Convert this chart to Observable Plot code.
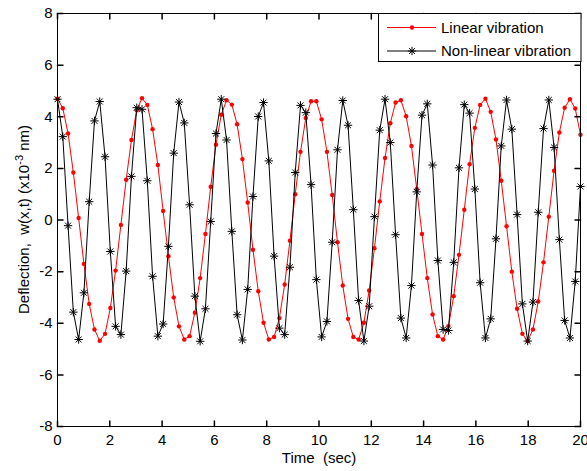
<!DOCTYPE html>
<html>
<head>
<meta charset="utf-8">
<script src="https://cdn.jsdelivr.net/npm/d3@7"></script>
<script src="https://cdn.jsdelivr.net/npm/@observablehq/plot@0.6"></script>
<style>
  html, body { margin: 0; padding: 0; background: white; }
  #chart { position: relative; width: 587px; height: 471px; }
  #chart svg text { white-space: pre; }
</style>
</head>
<body>
<div id="chart"></div>
<script>
// ---- data ----
const time = [0,0.202,0.404,0.606,0.808,1.010,1.212,1.414,1.616,1.818,
  2.020,2.222,2.424,2.626,2.828,3.030,3.232,3.434,3.636,3.838,
  4.040,4.242,4.444,4.646,4.848,5.051,5.253,5.455,5.657,5.859,
  6.061,6.263,6.465,6.667,6.869,7.071,7.273,7.475,7.677,7.879,
  8.081,8.283,8.485,8.687,8.889,9.091,9.293,9.495,9.697,9.899,
  10.101,10.303,10.505,10.707,10.909,11.111,11.313,11.515,11.717,11.919,
  12.121,12.323,12.525,12.727,12.929,13.131,13.333,13.535,13.737,13.939,
  14.141,14.343,14.545,14.747,14.949,15.152,15.354,15.556,15.758,15.960,
  16.162,16.364,16.566,16.768,16.970,17.172,17.374,17.576,17.778,17.980,
  18.182,18.384,18.586,18.788,18.990,19.192,19.394,19.596,19.798,20];

const linearVibration = [4.70,4.33,3.35,1.84,0.08,-1.70,-3.25,-4.24,-4.68,-4.41,
  -3.41,-1.96,-0.19,1.56,3.10,4.25,4.72,4.46,3.52,2.13,
  0.35,-1.40,-3.00,-4.12,-4.63,-4.50,-3.59,-2.25,-0.54,1.29,
  2.92,4.08,4.64,4.47,3.71,2.36,0.68,-1.15,-2.76,-3.98,
  -4.63,-4.53,-3.80,-2.50,-0.80,1.00,2.64,3.95,4.60,4.60,
  3.90,2.64,0.97,-0.86,-2.54,-3.83,-4.53,-4.63,-3.98,-2.73,
  -1.09,0.72,2.40,3.75,4.55,4.64,4.02,2.87,1.20,-0.54,
  -2.25,-3.66,-4.50,-4.63,-4.11,-2.95,-1.35,0.40,2.16,3.57,
  4.46,4.70,4.19,3.12,1.52,-0.24,-2.00,-3.44,-4.41,-4.69,
  -4.24,-3.16,-1.64,0.13,1.91,3.39,4.35,4.68,4.32,3.30];

const nonlinearVibration = [4.68,3.23,-0.22,-3.57,-4.63,-2.82,0.71,3.84,4.59,2.45,
  -1.22,-4.12,-4.44,-1.98,1.69,4.35,4.29,1.52,-2.18,-4.50,
  -4.03,-1.02,2.59,4.57,3.76,0.59,-2.95,-4.70,-3.44,-0.06,
  3.35,4.68,3.10,-0.44,-3.67,-4.65,-2.69,0.91,4.01,4.55,
  2.29,-1.40,-4.19,-4.44,-1.83,1.84,4.44,4.16,1.37,-2.31,
  -4.53,-3.93,-0.86,2.72,4.63,3.67,0.40,-3.12,-4.69,-3.34,
  0.13,3.48,4.68,3.00,-0.57,-3.80,-4.57,-2.54,1.09,4.06,
  4.50,2.13,-1.57,-4.24,-4.28,-1.64,2.02,4.47,4.14,1.20,
  -2.43,-4.57,-3.83,-0.73,2.87,4.65,3.52,0.21,-3.25,-4.69,
  -3.18,0.30,3.54,4.65,2.81,-0.76,-3.89,-4.57,-2.38,1.30];

const xTicks = [0,2,4,6,8,10,12,14,16,18,20];
const yTicks = [-8,-6,-4,-2,0,2,4,6,8];
const seriesNames = ["Linear vibration", "Non-linear vibration"];
const xLabel = "Time  (sec)";
const yLabelMain = "Deflection,  w(x,t) (x10";
const yLabelSup = "-3";
const yLabelEnd = " nm)";

// ---- table for Plot ----
const rows = time.map((t, i) => ({t, lin: linearVibration[i], non: nonlinearVibration[i]}));

const tickShape = {draw(context, l) { context.moveTo(0, 0); context.lineTo(0, -l); }};
const TL = 5.5;
const FONT = '"Liberation Sans", Arial, sans-serif';

const chart = Plot.plot({
  width: 587,
  height: 471,
  marginLeft: 57,
  marginRight: 7,
  marginTop: 13,
  marginBottom: 45,
  style: {fontFamily: FONT, fontSize: "15px", color: "black", background: "white", overflow: "visible"},
  x: {domain: [0, 20]},
  y: {domain: [-8, 8]},
  marks: [
    Plot.line(rows, {x: "t", y: "lin", stroke: "#ff0000", strokeWidth: 1}),
    Plot.dot(rows, {x: "t", y: "lin", fill: "#ff0000", stroke: "none", r: 2.2}),
    Plot.line(rows, {x: "t", y: "non", stroke: "black", strokeWidth: 1}),
    Plot.dot(rows, {x: "t", y: "non", symbol: "plus", r: 2.8, stroke: "black", strokeWidth: 1}),
    Plot.dot(rows, {x: "t", y: "non", symbol: "times", r: 2.8, stroke: "black", strokeWidth: 1}),
    Plot.frame({stroke: "black", strokeWidth: 1}),
    // inward MATLAB-style ticks on all four sides
    Plot.vector(xTicks, {x: d => d, frameAnchor: "bottom", length: TL, rotate: 0, anchor: "start", shape: tickShape, stroke: "black"}),
    Plot.vector(xTicks, {x: d => d, frameAnchor: "top", length: TL, rotate: 180, anchor: "start", shape: tickShape, stroke: "black"}),
    Plot.vector(yTicks, {y: d => d, frameAnchor: "left", length: TL, rotate: 90, anchor: "start", shape: tickShape, stroke: "black"}),
    Plot.vector(yTicks, {y: d => d, frameAnchor: "right", length: TL, rotate: -90, anchor: "start", shape: tickShape, stroke: "black"}),
    Plot.axisX(xTicks, {tickSize: 0, tickPadding: 8, tickFormat: d => String(d), label: null}),
    Plot.axisY(yTicks, {tickSize: 0, tickPadding: 5, tickFormat: d => String(d), label: null}),
    Plot.text([xLabel], {text: d => d, frameAnchor: "bottom", dy: 32, lineAnchor: "middle", textAnchor: "middle", fontSize: 15})
  ]
});

document.getElementById("chart").appendChild(chart);

// ---- y-axis title with superscript ----
const svg = d3.select(chart);
const yt = svg.append("text")
  .attr("transform", "translate(28.5,219.5) rotate(-90)")
  .attr("text-anchor", "middle")
  .attr("fill", "black")
  .style("font-family", FONT)
  .style("font-size", "15px");
yt.append("tspan").text(yLabelMain);
yt.append("tspan").attr("dy", -6).style("font-size", "11px").text(yLabelSup);
yt.append("tspan").attr("dy", 6).text(yLabelEnd);

// ---- legend ----
const lg = svg.append("g").attr("text-anchor", "start");
lg.append("rect").attr("x", 378.5).attr("y", 13.5).attr("width", 202.5).attr("height", 48)
  .attr("fill", "white").attr("stroke", "black").attr("stroke-width", 1);
const rowsY = [27.5, 51];
// linear
lg.append("line").attr("x1", 387).attr("x2", 436).attr("y1", rowsY[0]).attr("y2", rowsY[0]).attr("stroke", "#ff0000");
lg.append("circle").attr("cx", 412).attr("cy", rowsY[0]).attr("r", 2.2).attr("fill", "#ff0000");
// non-linear
lg.append("line").attr("x1", 387).attr("x2", 436).attr("y1", rowsY[1]).attr("y2", rowsY[1]).attr("stroke", "black");
const r = 2.8, size = Math.PI * r * r;
lg.append("path").attr("d", d3.symbol(d3.symbolPlus, size)()).attr("transform", `translate(412,${rowsY[1]})`).attr("fill", "none").attr("stroke", "black");
lg.append("path").attr("d", d3.symbol(d3.symbolTimes, size)()).attr("transform", `translate(412,${rowsY[1]})`).attr("fill", "none").attr("stroke", "black");
seriesNames.forEach((name, i) => {
  lg.append("text").attr("x", 441).attr("y", rowsY[i] + 5.3).attr("fill", "black")
    .attr("text-anchor", "start")
    .style("font-family", FONT).style("font-size", "15px").text(name);
});
</script>
</body>
</html>
